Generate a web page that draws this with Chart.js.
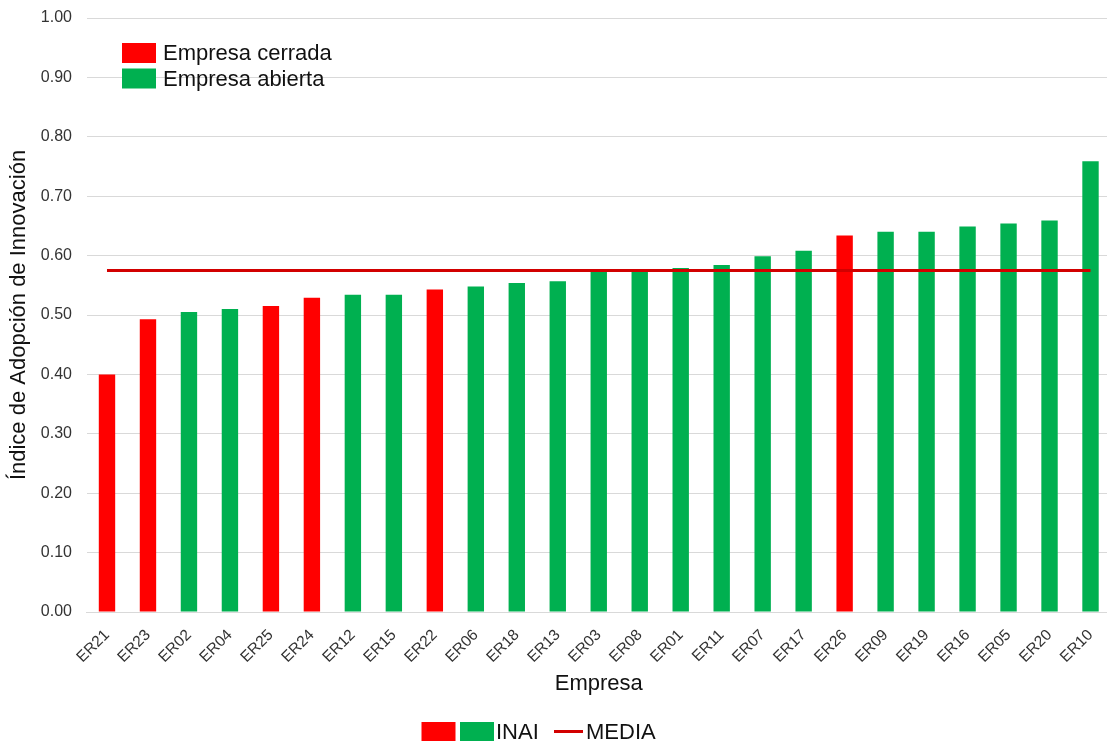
<!DOCTYPE html>
<html lang="es">
<head>
<meta charset="utf-8">
<title>Índice de Adopción de Innovación por empresa</title>
<script src="https://cdn.jsdelivr.net/npm/chart.js@4/dist/chart.umd.min.js"></script>
<style>
  html, body { margin: 0; padding: 0; background: #ffffff; overflow: hidden; }
  #wrap { width: 1111px; height: 742px; }
</style>
</head>
<body>
<div id="wrap"><canvas id="grafico" width="1111" height="742"></canvas></div>
<script>
// Empresas ordenadas de menor a mayor índice
const empresas = ['ER21','ER23','ER02','ER04','ER25','ER24','ER12','ER15','ER22','ER06','ER18','ER13',
                  'ER03','ER08','ER01','ER11','ER07','ER17','ER26','ER09','ER19','ER16','ER05','ER20','ER10'];

// Índice de Adopción de Innovación (INAI) de cada empresa
const inai = [0.400, 0.493, 0.505, 0.510, 0.515, 0.529, 0.534, 0.534, 0.543, 0.548, 0.554, 0.557,
              0.574, 0.575, 0.579, 0.584, 0.599, 0.608, 0.634, 0.640, 0.640, 0.649, 0.654, 0.659, 0.759];

// Tipo de empresa: 'cerrada' o 'abierta'
const tipo = ['cerrada','cerrada','abierta','abierta','cerrada','cerrada','abierta','abierta','cerrada','abierta',
              'abierta','abierta','abierta','abierta','abierta','abierta','abierta','abierta','cerrada','abierta',
              'abierta','abierta','abierta','abierta','abierta'];

// Media del índice
const media = 0.575;

// Marcas del eje vertical
const yTicks = [0.00, 0.10, 0.20, 0.30, 0.40, 0.50, 0.60, 0.70, 0.80, 0.90, 1.00];

// Textos de las leyendas
const tipoLeyenda = ['Empresa cerrada', 'Empresa abierta'];
const serieInai = 'INAI';
const serieMedia = 'MEDIA';

const colores = { cerrada: '#ff0000', abierta: '#00b050', media: '#d20000' };
const fuente = '"Liberation Sans", Arial, Helvetica, sans-serif';

// Los márgenes del área de trazado se fijan sólo con layout.padding
function sinMargenes(scale) {
  scale.paddingTop = 0;
  scale.paddingBottom = 0;
  scale.paddingLeft = 0;
  scale.paddingRight = 0;
}

// Leyendas dibujadas a mano: la de tipo de empresa dentro del área del gráfico
// y la de series debajo del título del eje X
const leyendas = {
  id: 'leyendas',
  afterDraw(chart) {
    const ctx = chart.ctx;
    ctx.save();
    ctx.font = '22px ' + fuente;
    ctx.textBaseline = 'middle';
    ctx.textAlign = 'left';

    // Tipo de empresa
    const tipos = ['cerrada', 'abierta'];
    tipos.forEach((t, i) => {
      const yc = 53 + i * 25.5;
      ctx.fillStyle = colores[t];
      ctx.fillRect(122, yc - 10, 34, 20);
      ctx.fillStyle = '#111111';
      ctx.fillText(tipoLeyenda[i], 163, yc + 1);
    });

    // Series
    const yb = 731.5;
    ctx.fillStyle = colores.cerrada;
    ctx.fillRect(421.5, yb - 9.5, 34, 19);
    ctx.fillStyle = colores.abierta;
    ctx.fillRect(460, yb - 9.5, 34, 19);
    ctx.fillStyle = '#111111';
    ctx.fillText(serieInai, 496, yb + 1);

    ctx.strokeStyle = colores.media;
    ctx.lineWidth = 3;
    ctx.beginPath();
    ctx.moveTo(554, yb);
    ctx.lineTo(583, yb);
    ctx.stroke();
    ctx.fillText(serieMedia, 586, yb + 1);
    ctx.restore();
  }
};

new Chart(document.getElementById('grafico'), {
  data: {
    labels: empresas,
    datasets: [
      {
        type: 'line',
        label: serieMedia,
        data: empresas.map(() => media),
        borderColor: colores.media,
        borderWidth: 3,
        pointRadius: 0,
        fill: false,
        order: 0
      },
      {
        type: 'bar',
        label: serieInai,
        data: inai,
        backgroundColor: tipo.map(t => colores[t]),
        borderWidth: 0,
        barPercentage: 0.4,
        categoryPercentage: 1.0,
        order: 1
      }
    ]
  },
  options: {
    responsive: false,
    animation: false,
    layout: { padding: { top: 18, left: 0, right: 0, bottom: 44.8 } },
    plugins: {
      legend: { display: false },
      tooltip: { enabled: false }
    },
    scales: {
      x: {
        grid: { display: false, drawTicks: false },
        border: { display: true, color: '#d9d9d9', width: 1 },
        ticks: {
          color: '#333333',
          font: { family: fuente, size: 15.5 },
          minRotation: 45,
          maxRotation: 45,
          padding: 14
        },
        title: {
          display: true,
          text: 'Empresa',
          color: '#111111',
          font: { family: fuente, size: 22 },
          padding: { top: 0, bottom: 0 }
        },
        afterFit(scale) { scale.height = 85.2; sinMargenes(scale); }
      },
      y: {
        min: 0,
        max: 1,
        afterBuildTicks(scale) { scale.ticks = yTicks.map(v => ({ value: v })); },
        grid: { color: '#d9d9d9', lineWidth: 1, drawTicks: false },
        border: { display: false },
        ticks: {
          color: '#333333',
          font: { family: fuente, size: 16 },
          padding: 14.5,
          callback: v => Number(v).toFixed(2)
        },
        title: {
          display: true,
          text: 'Índice de Adopción de Innovación',
          color: '#111111',
          font: { family: fuente, size: 22 },
          padding: { top: 6, bottom: 0 }
        },
        afterFit(scale) { scale.width = 86.5; sinMargenes(scale); }
      }
    }
  },
  plugins: [leyendas]
});
</script>
</body>
</html>
